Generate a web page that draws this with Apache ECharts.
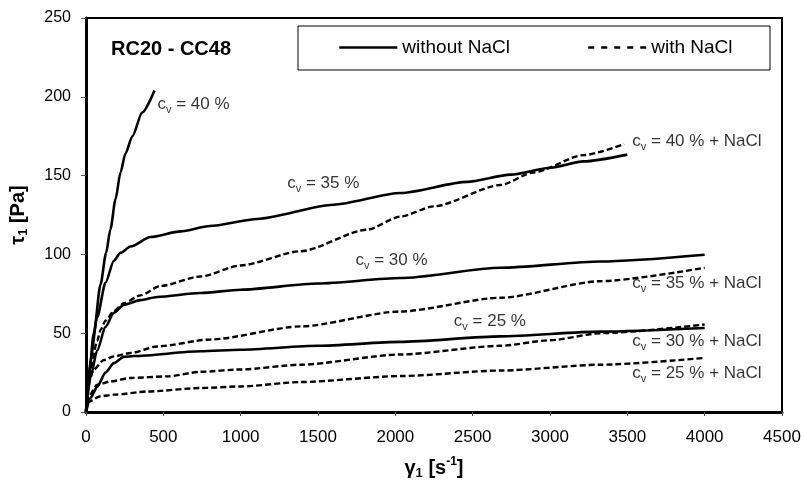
<!DOCTYPE html>
<html>
<head>
<meta charset="utf-8">
<script src="https://cdn.jsdelivr.net/npm/echarts@6/dist/echarts.min.js"></script>
<style>html,body{margin:0;padding:0;background:#fff}#c{width:805px;height:490px}</style>
</head>
<body>
<div id="c"></div>
<script>
// ---- data (shear rate [1/s], shear stress [Pa]) ----
const cv40 = [[0,0],[18,22],[50,50],[94,81],[130,101],[158,116],[191,135],[223,152],[255,164],[300,175],[363,190],[443,204]];
const cv35 = [[0,0],[29,33],[72,60],[126,82],[180,96],[223,101],[288,105],[417,111],[611,114.6],[800,118],[1107,122.5],[1600,131.5],[2033,139],[2465,146],[2745,150.6],[3003,155],[3217,159],[3500,163.3]];
const cv30 = [[0,0],[29,22],[72,39],[126,54],[180,63],[244,68],[352,71],[460,73],[740,75.5],[1000,77.6],[1500,81.5],[2033,85],[2680,91.5],[3327,95.5],[4000,99.8]];
const cv25 = [[0,0],[30,9],[72,16],[126,25],[180,31],[244,35],[309,35.5],[740,38.5],[1000,39.5],[1500,42],[2033,44.5],[2680,48],[3327,51],[4000,53.3]];
const nacl40 = [[0,0],[30,28],[72,45],[94,52],[126,58],[180,64],[244,69],[352,74],[482,80],[740,86],[1000,93],[1387,102],[1818,115.7],[2033,124],[2249,130.5],[2680,144],[2893,152],[3217,163],[3480,170]];
const nacl35 = [[0,0],[8,16],[50,27],[115,33],[180,35.3],[288,37.4],[460,41.6],[805,46],[1387,54.3],[2033,63.8],[2680,72.5],[3327,83],[4000,91.5]];
const nacl30 = [[0,0],[18,10],[72,17.3],[158,19.4],[288,21.6],[525,22.6],[740,25.5],[1000,27],[1387,30],[2033,36.5],[2680,42],[3000,45.5],[3327,50],[4000,55.5]];
const nacl25 = [[0,0],[18,6.7],[94,10],[180,11],[396,13],[740,15.2],[1000,16.2],[1387,19],[2033,22.8],[2680,26.3],[3327,30],[4000,34.3]];

// curve annotations: [x, y, text]
const curveLabels = [
  [462, 195, '40 %'],
  [1301, 145, '35 %'],
  [1742, 96.3, '30 %'],
  [2378, 57.6, '25 %'],
  [3532, 171.5, '40 % + NaCl'],
  [3532, 81.7, '35 % + NaCl'],
  [3532, 45, '30 % + NaCl'],
  [3532, 24.6, '25 % + NaCl']
];

const FONT = "'Liberation Sans', Arial, sans-serif";
const solidStyle = {color:'#000', width:2.6, type:'solid'};
const dashStyle = {color:'#000', width:2.4, type:[6,3]};
const hiddenSymbol = {color:'rgba(0,0,0,0)', borderColor:'rgba(0,0,0,0)', borderWidth:0};

function lineSeries(name, data, style){
  return {
    name: name, type:'line', data: data, showSymbol:false, symbol:'none',
    smooth:0.25, smoothMonotone:'x', lineStyle: style, itemStyle:{color:'#000'},
    emphasis:{disabled:true}, animation:false, z:3
  };
}

const chart = echarts.init(document.getElementById('c'), null, {renderer:'canvas'});
chart.setOption({
  animation:false,
  backgroundColor:'#fff',
  textStyle:{fontFamily:FONT, color:'#000'},
  title:{
    text:'RC20 - CC48', left:111, top:39, padding:0,
    textStyle:{fontFamily:FONT, fontSize:20, fontWeight:'bold', color:'#000'}
  },
  graphic:[{
    type:'rect', z:1, shape:{x:298, y:26, width:472, height:44},
    style:{fill:'#fff', stroke:'#000', lineWidth:1}
  }],
  legend:{
    left:338, top:38, padding:0, itemGap:77, itemWidth:58, itemHeight:14,
    z:5,
    textStyle:{fontFamily:FONT, fontSize:19, color:'#000'},
    data:[
      {name:'without NaCl', itemStyle:hiddenSymbol, lineStyle:{color:'#000', width:2.6, type:'solid'}},
      {name:'with NaCl', itemStyle:hiddenSymbol, lineStyle:{color:'#000', width:2.4, type:[6,7]}}
    ],
    selectedMode:false
  },
  grid:{left:86, right:23, top:18, bottom:78, show:true, borderColor:'#000', borderWidth:2, backgroundColor:'#fff'},
  xAxis:{
    type:'value', min:0, max:4500, interval:500,
    name:'{t|γ}{s|1}{t| [s}{p|-1}{t|]}', nameLocation:'middle', nameGap:44,
    nameTextStyle:{
      fontFamily:FONT, fontWeight:'bold', color:'#000',
      rich:{
        t:{fontFamily:FONT, fontSize:20, fontWeight:'bold', lineHeight:24, verticalAlign:'middle', color:'#000'},
        s:{fontFamily:FONT, fontSize:13, fontWeight:'bold', lineHeight:24, verticalAlign:'bottom', color:'#000'},
        p:{fontFamily:FONT, fontSize:12, fontWeight:'bold', lineHeight:24, verticalAlign:'top', color:'#000'}
      }
    },
    axisLine:{show:true, onZero:false, lineStyle:{color:'#000', width:3}},
    axisTick:{show:true, length:4, lineStyle:{color:'#555', width:1}},
    axisLabel:{fontFamily:FONT, fontSize:17, color:'#000', margin:17, formatter: v => String(v)},
    splitLine:{show:false}
  },
  yAxis:{
    type:'value', min:0, max:250, interval:50,
    name:'{t|τ}{s|1}{t| [Pa]}', nameLocation:'middle', nameGap:56,
    nameTextStyle:{
      fontFamily:FONT, fontWeight:'bold', color:'#000',
      rich:{
        t:{fontFamily:FONT, fontSize:20, fontWeight:'bold', lineHeight:24, verticalAlign:'middle', color:'#000'},
        s:{fontFamily:FONT, fontSize:13, fontWeight:'bold', lineHeight:24, verticalAlign:'bottom', color:'#000'}
      }
    },
    axisLine:{show:true, onZero:false, lineStyle:{color:'#000', width:3}},
    axisTick:{show:true, length:5, lineStyle:{color:'#555', width:1}},
    axisLabel:{fontFamily:FONT, fontSize:16, color:'#000', margin:15, formatter: v => String(v)},
    splitLine:{show:false}
  },
  series:[
    lineSeries('without NaCl', cv40, solidStyle),
    lineSeries('without NaCl', cv35, solidStyle),
    lineSeries('without NaCl', cv30, solidStyle),
    lineSeries('without NaCl', cv25, solidStyle),
    lineSeries('with NaCl', nacl40, dashStyle),
    lineSeries('with NaCl', nacl35, dashStyle),
    lineSeries('with NaCl', nacl30, dashStyle),
    lineSeries('with NaCl', nacl25, dashStyle),
    {
      name:'labels', type:'scatter', symbolSize:0, silent:true, z:4,
      data: curveLabels.map(d => ({value:[d[0], d[1]], txt:d[2]})),
      label:{
        show:true, position:'right', distance:0,
        formatter: p => '{c|c}{v|v}{t| = ' + p.data.txt + '}',
        rich:{
          c:{fontFamily:FONT, fontSize:17, lineHeight:22, verticalAlign:'middle', color:'#000'},
          v:{fontFamily:FONT, fontSize:11, lineHeight:22, verticalAlign:'bottom', color:'#000'},
          t:{fontFamily:FONT, fontSize:17, lineHeight:22, verticalAlign:'middle', color:'#000'}
        }
      }
    }
  ]
});
</script>
</body>
</html>
